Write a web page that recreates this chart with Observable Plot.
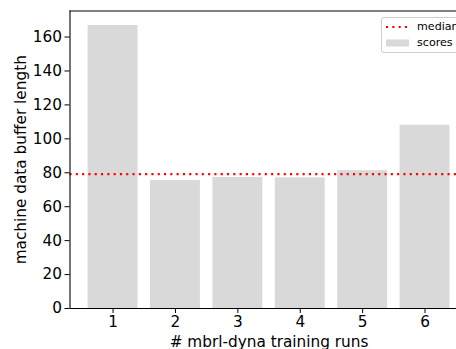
<!DOCTYPE html>
<html>
<head>
<meta charset="utf-8">
<script src="https://cdn.jsdelivr.net/npm/d3@7"></script>
<script src="https://cdn.jsdelivr.net/npm/@observablehq/plot@0.6"></script>
<style>
  html, body { margin: 0; padding: 0; background: white; overflow: hidden; }
  #wrap { position: relative; width: 456px; height: 349px; overflow: hidden; }
  #legend { position: absolute; left: 381px; top: 17px; width: 100px; height: 34px;
    border: 1px solid #cccccc; border-radius: 3px; background: rgba(255,255,255,0.8);
    font-family: "DejaVu Sans"; font-size: 11.1px; color: #000; }
  #legend .row { position: absolute; left: 0; height: 14px; display: flex; align-items: center; }
  #legend .txt { position: absolute; left: 35px; white-space: nowrap; line-height: 14px; }
</style>
</head>
<body>
<div id="wrap"></div>
<script>
// ---- data ----
const runs = [1, 2, 3, 4, 5, 6];
const bufferLengths = [166.8, 75.4, 77.2, 77.0, 81.2, 108.0];
const xTicks = [1, 2, 3, 4, 5, 6];
const yTicks = [0, 20, 40, 60, 80, 100, 120, 140, 160];
const xLabel = "# mbrl-dyna training runs";
const yLabel = "machine data buffer length";
const legendLabels = ["median", "scores"];

const rows = runs.map((r, i) => ({run: r, value: bufferLengths[i]}));
const medianValue = d3.median(bufferLengths);

const barColor = "#d9d9d9";
const fontSize = 15.3;

const chart = Plot.plot({
  width: 456,
  height: 349,
  marginLeft: 69.5,
  marginRight: -11.6,
  marginTop: 10.5,
  marginBottom: 41,
  style: {fontFamily: "DejaVu Sans", fontSize: fontSize + "px", color: "#000", background: "white", overflow: "hidden"},
  x: {type: "linear", domain: [0.31, 6.69]},
  y: {type: "linear", domain: [0, 175.35]},
  marks: [
    Plot.rect(rows, {x1: d => d.run - 0.4, x2: d => d.run + 0.4, y1: 0, y2: "value", fill: barColor}),
    Plot.ruleY([medianValue], {stroke: "#ff0000", strokeWidth: 2.1, strokeDasharray: "2.1,4.2"}),
    Plot.ruleX([0.31], {stroke: "#000", strokeWidth: 1.1}),
    Plot.ruleY([0, 175.35], {stroke: "#000", strokeWidth: 1.1}),
    Plot.axisX(xTicks, {tickSize: 5, tickPadding: 3, tickFormat: d => String(d), label: null, fontSize: fontSize}),
    Plot.axisY(yTicks, {tickSize: 5, tickPadding: 3, tickFormat: d => String(d), label: null, fontSize: fontSize}),
    Plot.text([xLabel], {frameAnchor: "bottom", textAnchor: "middle", lineAnchor: "middle", dy: 34, fontSize: fontSize}),
    Plot.text([yLabel], {frameAnchor: "left", textAnchor: "middle", lineAnchor: "middle", rotate: -90, dx: -49, fontSize: fontSize})
  ]
});

const wrap = document.getElementById("wrap");
wrap.appendChild(chart);

// legend (inside the axes, top right)
const legend = document.createElement("div");
legend.id = "legend";
const samples = [
  `<svg width="26" height="14" style="position:absolute;left:3px;top:0"><line x1="1" x2="24" y1="7" y2="7" stroke="#ff0000" stroke-width="2.1" stroke-dasharray="2.1,4.2"/></svg>`,
  `<svg width="26" height="14" style="position:absolute;left:3px;top:0"><rect x="1" y="3.5" width="23" height="7" fill="${barColor}"/></svg>`
];
legendLabels.forEach((lab, i) => {
  const row = document.createElement("div");
  row.className = "row";
  row.style.top = (2 + i * 15.5) + "px";
  row.style.width = "100px";
  row.innerHTML = samples[i] + `<span class="txt">${lab}</span>`;
  legend.appendChild(row);
});
wrap.appendChild(legend);
</script>
</body>
</html>
